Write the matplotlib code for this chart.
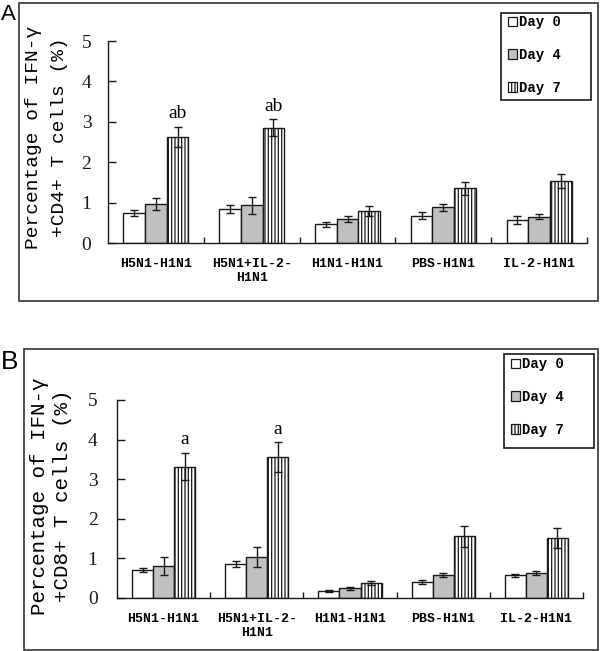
import matplotlib
matplotlib.use("Agg")
import matplotlib.pyplot as plt
from matplotlib.patches import Rectangle, Patch
import numpy as np

categories = ["H5N1-H1N1", "H5N1+IL-2-\nH1N1", "H1N1-H1N1", "PBS-H1N1", "IL-2-H1N1"]
series = ["Day 0", "Day 4", "Day 7"]

# Panel A: IFN-gamma+ CD4+ T cells (%)
a_day0 = [0.74, 0.84, 0.46, 0.68, 0.56]
a_day4 = [0.96, 0.93, 0.59, 0.88, 0.65]
a_day7 = [2.62, 2.85, 0.79, 1.35, 1.53]
a_err0 = [0.07, 0.10, 0.06, 0.08, 0.10]
a_err4 = [0.15, 0.20, 0.08, 0.08, 0.06]
a_err7 = [0.25, 0.21, 0.12, 0.17, 0.18]
a_marks = ["ab", "ab", "", "", ""]

# Panel B: IFN-gamma+ CD8+ T cells (%)
b_day0 = [0.71, 0.86, 0.18, 0.40, 0.57]
b_day4 = [0.81, 1.04, 0.25, 0.58, 0.63]
b_day7 = [3.32, 3.55, 0.38, 1.56, 1.51]
b_err0 = [0.06, 0.07, 0.02, 0.05, 0.04]
b_err4 = [0.23, 0.25, 0.04, 0.04, 0.06]
b_err7 = [0.35, 0.38, 0.05, 0.27, 0.25]
b_marks = ["a", "a", "", "", ""]

W, H = 600, 651
fig = plt.figure(figsize=(W / 100, H / 100), dpi=100)

mono = ["Liberation Mono", "DejaVu Sans Mono"]
serif = ["Liberation Serif", "DejaVu Serif"]
gray = "#c0c0c0"
ink = "#1a1a1a"
plt.rcParams["hatch.linewidth"] = 0.9
plt.rcParams["hatch.color"] = ink


def px_rect(x0, y0, x1, y1):
    return [x0 / W, 1 - y1 / H, (x1 - x0) / W, (y1 - y0) / H]


def panel(ax_px, frame_px, letter_px, letter, letter_size, vals, errs, marks, ylab2,
          ylab_x, ylab_y, ylab_size, tick_pad, leg_box, leg_anchor):
    fx0, fy0, fx1, fy1 = frame_px
    fig.add_artist(Rectangle((fx0 / W, 1 - fy1 / H), (fx1 - fx0) / W, (fy1 - fy0) / H,
                             transform=fig.transFigure, fill=False, edgecolor="#333333",
                             linewidth=1.2))
    fig.text(letter_px[0] / W, 1 - letter_px[1] / H, letter, fontsize=letter_size,
             family=["Liberation Sans", "DejaVu Sans"], ha="left", va="top")

    ax = fig.add_axes(px_rect(*ax_px))
    x = np.arange(1, len(categories) + 1)
    bw = 0.226
    styles = [dict(facecolor="white"), dict(facecolor=gray),
              dict(facecolor="white", hatch="|||||")]
    handles = []
    for i, (v, e, st) in enumerate(zip(vals, errs, styles)):
        ax.bar(x + (i - 1) * bw, v, bw, edgecolor=ink, linewidth=1.0, **st,
               yerr=e, error_kw=dict(ecolor=ink, elinewidth=1.0, capsize=2.6,
                                     capthick=1.0), zorder=2)
        handles.append(Patch(edgecolor=ink, linewidth=0.9, **st))
    for xi, v, e, m in zip(x, vals[2], errs[2], marks):
        if m:
            ax.text(xi + bw, v + e + 0.12, m, ha="center", va="bottom",
                    fontsize=14, family=serif)

    ax.set_xlim(0.5, len(categories) + 0.5)
    ax.set_ylim(0, 5)
    ax.set_yticks(range(0, 6))
    ax.set_yticklabels([str(t) for t in range(0, 6)], family=serif, fontsize=14)
    ax.tick_params(axis="y", direction="in", length=6, width=1, pad=tick_pad, colors=ink)
    ax.set_xticks(np.arange(1.5, len(categories) + 0.6, 1.0))
    ax.set_xticklabels([])
    ax.tick_params(axis="x", which="major", direction="in", length=4, width=1, colors=ink)
    ax.set_xticks(x, minor=True)
    ax.set_xticklabels(categories, minor=True, family=mono, fontweight="bold", fontsize=9.5)
    ax.tick_params(axis="x", which="minor", length=0, pad=11)
    for s in ["top", "right"]:
        ax.spines[s].set_visible(False)
    for s in ["left", "bottom"]:
        ax.spines[s].set_color(ink)
        ax.spines[s].set_linewidth(1.0)

    fig.text(ylab_x[0] / W, 1 - ylab_y / H, "Percentage of IFN-γ", rotation=90,
             ha="center", va="center", fontsize=ylab_size, family=mono)
    fig.text(ylab_x[1] / W, 1 - ylab_y / H, ylab2, rotation=90,
             ha="center", va="center", fontsize=ylab_size, family=mono)

    lx0, ly0, lx1, ly1 = leg_box
    fig.add_artist(Rectangle((lx0 / W, 1 - ly1 / H), (lx1 - lx0) / W, (ly1 - ly0) / H,
                             transform=fig.transFigure, fill=False, edgecolor=ink,
                             linewidth=1.2))
    fig.legend(handles, series, loc="center left",
               bbox_to_anchor=(leg_anchor[0] / W, 1 - leg_anchor[1] / H),
               frameon=False, prop=dict(family=mono, weight="bold", size=10),
               handlelength=0.65, handleheight=0.65, handletextpad=0.15,
               labelspacing=1.35, borderpad=0, borderaxespad=0)
    return ax


panel((108, 41, 587, 243), (19, 3, 598, 301), (1, 4), "A", 16,
      [a_day0, a_day4, a_day7], [a_err0, a_err4, a_err7], a_marks,
      "+CD4+ T cells (%)", (33.5, 59), 137, 14, 12, (501, 13, 591, 100), (508, 55))

panel((117, 400, 583, 598), (24, 349, 598, 650), (1, 350), "B", 19,
      [b_day0, b_day4, b_day7], [b_err0, b_err4, b_err7], b_marks,
      "+CD8+ T cells (%)", (39.5, 62), 496, 15, 14, (504, 354, 594, 448), (511, 397))

fig.savefig("out.png", dpi=100)
